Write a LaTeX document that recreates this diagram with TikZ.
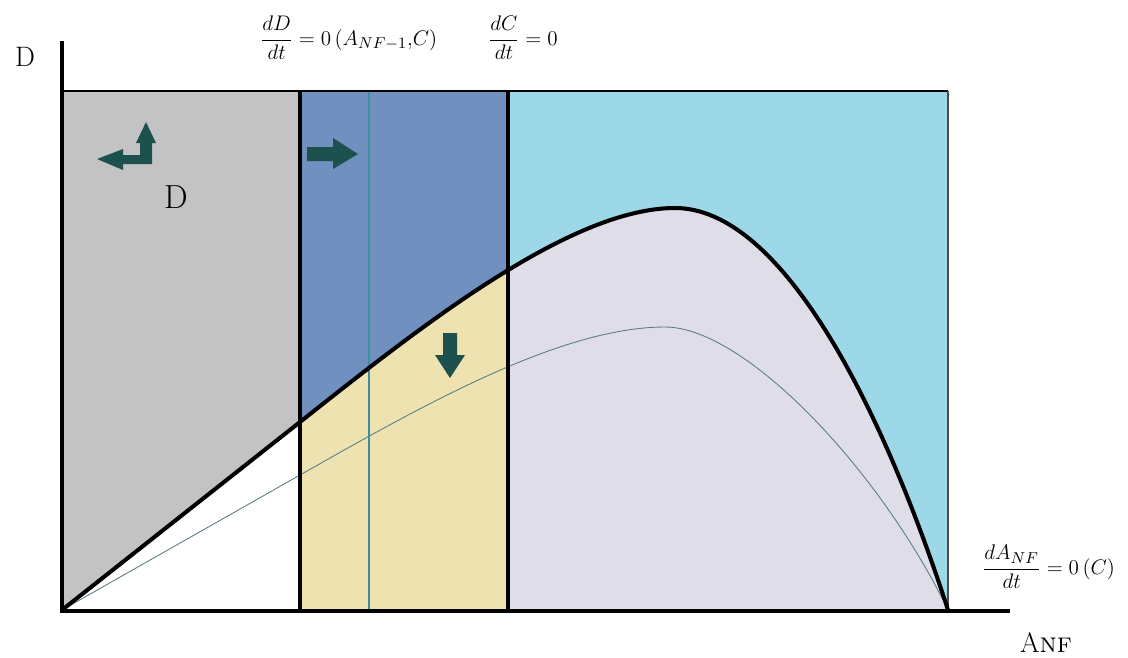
\documentclass[tikz,border=0pt]{standalone}
\usepackage{amsmath}
\usepackage{xcolor}
\usepackage{tikz}
\usetikzlibrary{calc}
\definecolor{ZoneGray}{HTML}{C3C3C3}
\definecolor{ZoneBlue}{HTML}{7090BF}
\definecolor{ZoneCyan}{HTML}{9DD8E8}
\definecolor{ZoneSand}{HTML}{EEE2B0}
\definecolor{ZoneLilac}{HTML}{DEDDE8}
\definecolor{ArrowTeal}{HTML}{1D514D}
\definecolor{CurveTeal}{HTML}{5C7E84}
\definecolor{LineTeal}{HTML}{3B8E9C}

% outer (thick) and inner (thin) humps
\newcommand\humpouter{(62,610) -- (300,422) .. controls (420,327) and (570,208) .. (675,208)
  .. controls (780,208) and (880,400) .. (948,610)}
\newcommand\humpinner{(62,610) -- (300,475) .. controls (420,407) and (560,327) .. (665,327)
  .. controls (745,327) and (880,470) .. (948,610)}

\begin{document}
\begin{tikzpicture}[x=0.02cm, y=-0.02cm,
  axis/.style={line width=2.3pt, black, line cap=rect},
  divider/.style={line width=2.1pt, black},
  hump/.style={line width=2.3pt, black, line join=round},
  lowhump/.style={line width=0.5pt, CurveTeal},
  blockarr/.style={fill=ArrowTeal, draw=none},
  lbl/.style={inner sep=0pt, font=\fontsize{16}{18}\selectfont},
  eqn/.style={inner sep=0pt, anchor=west, font=\fontsize{12.4}{15}\selectfont}
]
  \useasboundingbox (0,0) rectangle (1128,657);

  % Zones above the outer hump
  \fill[ZoneGray] (62,91) rectangle (300,610);
  \fill[ZoneBlue] (300,91) rectangle (508,610);
  \fill[ZoneCyan] (508,91) rectangle (948,610);

  % Zones below the outer hump
  \begin{scope}
    \clip \humpouter -- (62,610) -- cycle;
    \fill[white] (62,91) rectangle (300,610);
    \fill[ZoneSand] (300,91) rectangle (508,610);
    \fill[ZoneLilac] (508,91) rectangle (948,610);
  \end{scope}

  % Inner hump and thin marker line
  \draw[lowhump] \humpinner;
  \draw[LineTeal, line width=0.6pt] (369,91) -- (369,610);

  % Box frame and dividers
  \draw[line width=0.9pt] (62,91) -- (948,91);
  \draw[line width=0.6pt, black!70] (948,91) -- (948,610);
  \draw[divider] (300,91) -- (300,610);
  \draw[divider] (508,91) -- (508,610);

  % Outer hump
  \draw[hump] \humpouter;

  % Axes
  \draw[axis] (62,43) -- (62,611) -- (1008,611);

  % Direction arrows
  \fill[blockarr] (97,159) -- (123,149) -- (123,155) -- (140,155) -- (140,143)
    -- (136,143) -- (146,122) -- (156,143) -- (152,143) -- (152,164)
    -- (123,164) -- (123,170) -- cycle;
  \fill[blockarr] (307,147) -- (333,147) -- (333,138) -- (358,154) -- (333,169)
    -- (333,161) -- (307,161) -- cycle;
  \fill[blockarr] (443,333) -- (457,333) -- (457,355) -- (465,355) -- (450,378)
    -- (435,355) -- (443,355) -- cycle;

  % Labels
  \node[lbl] (yname) at (25,57) {D};
  \node[lbl, font=\fontsize{19}{21}\selectfont] (zoneD) at (176,197) {D};
  \node[lbl] (xname) at (1046,643) {A\textsc{nf}};
  \node[eqn] (nullD) at (260,38) {$\dfrac{dD}{dt}=0\,(A_{NF-1}{,}C)$};
  \node[eqn] (nullC) at (488,38) {$\dfrac{dC}{dt}=0$};
  \node[eqn] (nullA) at (982,567) {$\dfrac{dA_{NF}}{dt}=0\,(C)$};
\end{tikzpicture}
\end{document}
